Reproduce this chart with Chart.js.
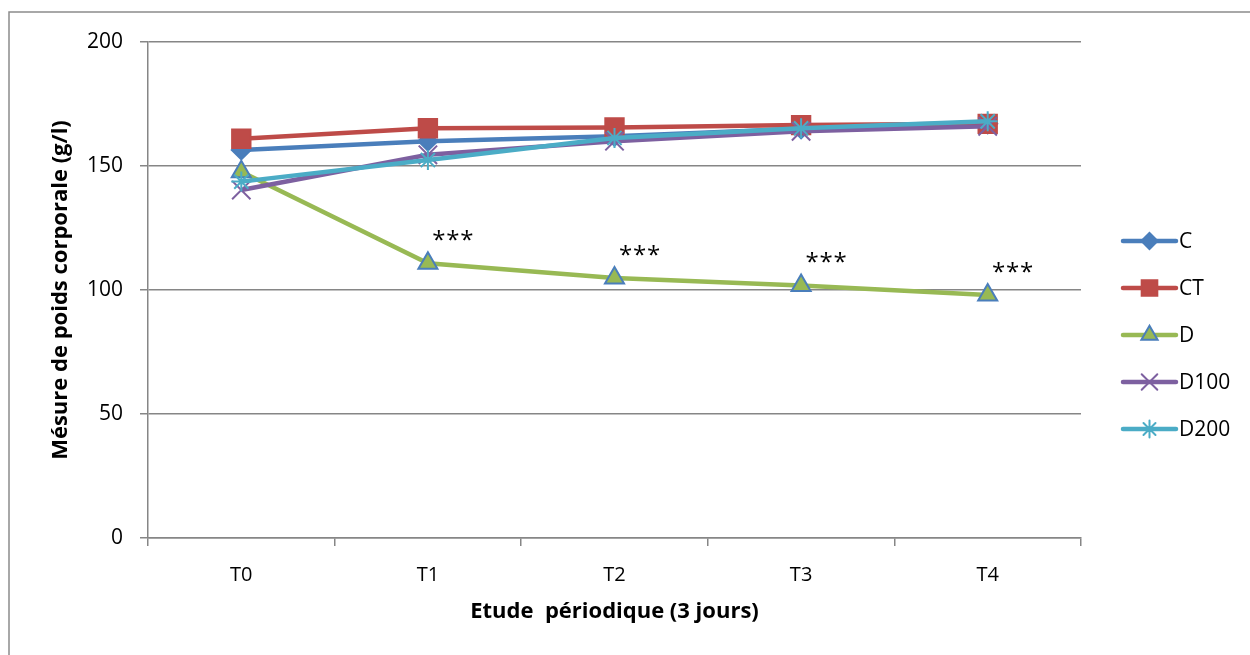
<!DOCTYPE html>
<html>
<head>
<meta charset="utf-8">
<script src="https://cdn.jsdelivr.net/npm/chart.js@4/dist/chart.umd.min.js"></script>
<style>
html,body{margin:0;padding:0;background:#fff;}
#wrap{width:1250px;height:655px;position:relative;}
</style>
</head>
<body>
<div id="wrap"><canvas id="c" width="1250" height="655"></canvas></div>
<script>
const categories = ["T0","T1","T2","T3","T4"];
const seriesC    = [156.5, 160, 162, 165, 167];
const seriesCT   = [161, 165.2, 165.5, 166.5, 167];
const seriesD    = [147.7, 110.8, 104.8, 101.8, 98];
const seriesD100 = [140.3, 154.5, 160, 164, 166];
const seriesD200 = [143.7, 152.4, 161.3, 165.2, 168];
const significance = ["", "***", "***", "***", "***"];
const yTicks = [0, 50, 100, 150, 200];

const FONT = "'Open Sans', sans-serif";

function ds(label, data, color, pointStyle, radius, order, fill, border) {
  return {
    label, data, order,
    borderColor: color,
    backgroundColor: fill || color,
    borderWidth: 4.5,
    pointStyle,
    pointRadius: radius,
    pointHoverRadius: radius,
    pointBackgroundColor: fill || color,
    pointBorderColor: border || color,
    pointBorderWidth: 2,
    tension: 0
  };
}

const datasets = [
  ds("C", seriesC, "#4A7EBB", "rectRot", 9.5, 5),
  ds("CT", seriesCT, "#BE4B48", "rect", 13, 4),
  ds("D", seriesD, "#98B954", "triangle", 11, 3, "#98B954", "#4A7EBB"),
  ds("D100", seriesD100, "#7D60A0", "crossRot", 13, 2),
  ds("D200", seriesD200, "#4BACC6", "star", 10, 1)
];

const framePlugin = {
  id: "frame",
  beforeDraw(chart) {
    const ctx = chart.ctx;
    ctx.save();
    ctx.fillStyle = "#fff";
    ctx.fillRect(0, 0, chart.width, chart.height);
    ctx.strokeStyle = "#8c8c8c";
    ctx.lineWidth = 1.5;
    ctx.beginPath();
    ctx.moveTo(9, 700);
    ctx.lineTo(9, 12);
    ctx.lineTo(1300, 12);
    ctx.stroke();
    ctx.restore();
  },
  afterDraw(chart) {
    const ctx = chart.ctx;
    const xs = chart.scales.x, ys = chart.scales.y;
    ctx.save();
    ctx.fillStyle = "#000";
    ctx.font = "24px " + FONT;
    ctx.textAlign = "center";
    ctx.textBaseline = "middle";
    significance.forEach((s, i) => {
      if (!s) return;
      const px = xs.getPixelForValue(i);
      const py = ys.getPixelForValue(seriesD[i]);
      for (let k = 0; k < s.length; k++) {
        ctx.fillText(s[k], px + 11 + k * 14, py - 22);
      }
    });
    const lx0 = 1123, lx1 = 1176, ty0 = 241, step = 47;
    chart.data.datasets.forEach((d, i) => {
      const y = ty0 + i * step;
      ctx.strokeStyle = d.borderColor;
      ctx.lineWidth = 4.5;
      ctx.lineCap = "round";
      ctx.beginPath();
      ctx.moveTo(lx0, y);
      ctx.lineTo(lx1, y);
      ctx.stroke();
      ctx.fillStyle = d.pointBackgroundColor;
      ctx.strokeStyle = d.pointBorderColor;
      ctx.lineWidth = 2;
      Chart.helpers.drawPoint(ctx, {pointStyle: d.pointStyle, radius: d.pointRadius * 0.85, rotation: 0, borderWidth: 2}, (lx0 + lx1) / 2, y);
      ctx.fillStyle = "#000";
      ctx.font = "21px " + FONT;
      ctx.textAlign = "left";
      ctx.textBaseline = "middle";
      ctx.fillText(d.label, lx1 + 3, y + 1);
    });
    ctx.restore();
  }
};

new Chart(document.getElementById("c"), {
  type: "line",
  data: { labels: categories, datasets },
  options: {
    responsive: false,
    animation: false,
    layout: { padding: { left: 0, right: 169, top: 42, bottom: 0 } },
    plugins: { legend: { display: false }, tooltip: { enabled: false } },
    scales: {
      x: {
        type: "category",
        offset: true,
        grid: {
          offset: true,
          drawOnChartArea: false,
          drawTicks: true,
          tickLength: 8,
          color: "#868686",
          lineWidth: 1.5
        },
        border: { color: "#868686", width: 1.5 },
        ticks: { color: "#000", font: { family: FONT, size: 20 }, padding: 17 },
        title: {
          display: true,
          text: "Etude  périodique (3 jours)",
          color: "#000",
          font: { family: FONT, size: 22, weight: "bold" },
          padding: { top: 0, bottom: 30 }
        },
        afterFit(scale) { scale.height = 117; }
      },
      y: {
        min: 0, max: 200,
        afterBuildTicks(scale) { scale.ticks = yTicks.map(v => ({ value: v })); },
        grid: { color: "#868686", lineWidth: 1.5, tickLength: 8 },
        border: { color: "#868686", width: 1.5 },
        ticks: { color: "#000", font: { family: FONT, size: 21 }, padding: 17 },
        title: {
          display: true,
          text: "Mésure de poids corporale (g/l)",
          color: "#000",
          font: { family: FONT, size: 22, weight: "bold" },
          padding: { top: 48, bottom: 0 }
        },
        afterFit(scale) { scale.width = 148; }
      }
    }
  },
  plugins: [framePlugin]
});
</script>
</body>
</html>
